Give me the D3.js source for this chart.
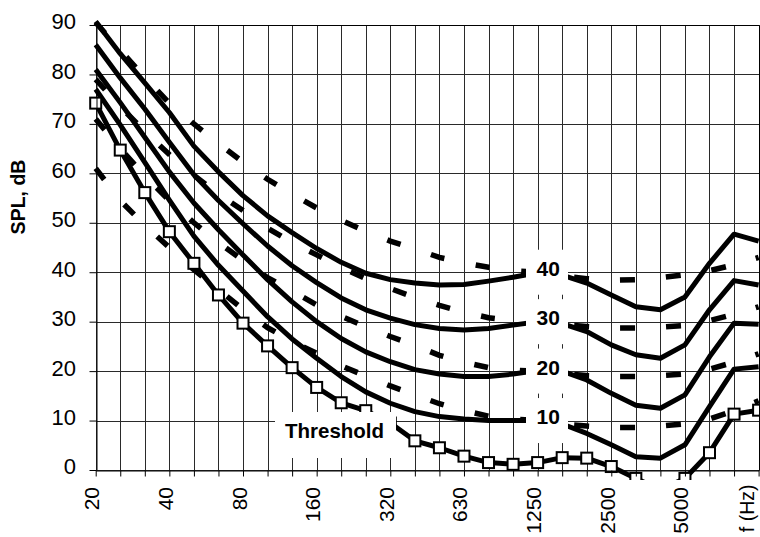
<!DOCTYPE html>
<html>
<head>
<meta charset="utf-8">
<script src="https://cdn.jsdelivr.net/npm/d3@7"></script>
<style>
  html, body { margin: 0; padding: 0; background: #fff; }
  svg { display: block; font-family: "Liberation Sans", Arial, sans-serif; }
</style>
</head>
<body>
<script>
// ---- Data ----
const bands = ["20","25","31.5","40","50","63","80","100","125","160","200","250","315","400","500","630","800","1000","1250","1600","2000","2500","3150","4000","5000","6300","8000","10000"];

// solid contours (dB SPL per band)
const c40 = [90.7, 84.2, 78.3, 72.3, 65.5, 60.3, 55.5, 51.4, 48.0, 44.8, 42.0, 39.8, 38.5, 37.8, 37.4, 37.5, 38.2, 39.0, 39.9, 39.4, 37.8, 35.4, 33.0, 32.4, 35.0, 41.8, 47.7, 46.3];
const c30 = [86.0, 79.3, 73.0, 66.3, 59.7, 54.5, 49.8, 45.3, 41.3, 37.9, 34.8, 32.4, 30.7, 29.4, 28.6, 28.3, 28.6, 29.3, 30.0, 29.6, 28.0, 25.3, 23.3, 22.6, 25.3, 32.4, 38.3, 37.4];
const c20 = [81.0, 74.3, 67.3, 60.3, 54.0, 48.6, 43.5, 38.5, 34.0, 30.0, 26.6, 23.9, 21.9, 20.3, 19.4, 18.9, 18.9, 19.4, 20.1, 20.0, 18.2, 15.5, 13.1, 12.5, 15.2, 22.9, 29.7, 29.5];
const c10 = [77.0, 69.8, 62.2, 54.6, 47.3, 41.4, 36.2, 31.0, 26.5, 22.6, 18.9, 15.8, 13.5, 11.8, 10.8, 10.3, 10.0, 10.0, 10.0, 9.3, 7.4, 5.1, 2.7, 2.4, 5.1, 12.8, 20.4, 20.9];
const threshold = [74.2, 64.7, 56.1, 48.2, 41.8, 35.4, 29.7, 25.1, 20.7, 16.7, 13.6, 12.0, 9.5, 5.9, 4.5, 2.8, 1.5, 1.15, 1.5, 2.5, 2.4, 0.7, -1.7, -4.0, -1.7, 3.5, 11.3, 12.1];

// dashed contours
const d40 = [90.5, 84.9, 79.4, 74.2, 70.0, 66.0, 62.3, 58.8, 55.8, 53.0, 50.5, 48.3, 46.3, 44.7, 43.0, 41.9, 41.0, 40.3, 40.0, 39.3, 38.7, 38.4, 38.5, 38.9, 39.5, 40.3, 41.5, 43.0];
const d30 = [79.0, 73.5, 68.5, 63.8, 59.6, 55.8, 52.5, 48.9, 46.0, 43.5, 41.0, 38.7, 36.7, 34.9, 33.3, 31.9, 30.8, 30.2, 30.0, 29.4, 29.0, 28.7, 28.7, 28.9, 29.2, 30.2, 31.5, 33.0];
const d20 = [71.0, 65.0, 59.5, 54.5, 50.0, 46.0, 42.4, 38.9, 36.2, 33.4, 31.1, 29.0, 27.0, 25.2, 23.2, 21.8, 20.7, 20.2, 20.0, 19.5, 19.1, 18.9, 18.9, 19.1, 19.4, 20.4, 21.8, 23.5];
const d10 = [61.0, 54.5, 49.5, 45.0, 40.5, 36.5, 32.5, 28.8, 26.0, 23.6, 21.1, 19.0, 17.0, 15.2, 13.4, 12.0, 10.9, 10.3, 10.0, 9.3, 8.9, 8.6, 8.6, 8.9, 9.3, 10.3, 12.0, 14.0];

const yTicks = [0, 10, 20, 30, 40, 50, 60, 70, 80, 90];
const xTickBands = ["20","40","80","160","315","630","1250","2500","5000","10000"];
const xTickTexts = ["20","40","80","160","320","630","1250","2500","5000","f (Hz)"];
const contourLevels = [40, 30, 20, 10];
const contourTexts = ["40", "30", "20", "10"];
const thresholdText = "Threshold";
const yTitle = "SPL, dB";
const splitBand = "1250"; // last band of the left part of the dashed curves

// ---- Chart ----
const W = 760, H = 537;
const svg = d3.select("body").append("svg").attr("width", W).attr("height", H);

const x = d3.scalePoint().domain(bands).range([95.7, 758.6]);
const y = d3.scaleLinear().domain([0, 90]).range([470, 25]);
const crisp = v => Math.round(v) + 0.5;
const lastBand = bands[bands.length - 1];

// gridlines
const grid = svg.append("g").attr("stroke", "#2a2a2a").attr("stroke-width", 1).attr("fill", "none");
grid.selectAll("line.v").data(bands).join("line").attr("class", "v")
  .attr("x1", d => crisp(x(d))).attr("x2", d => crisp(x(d)))
  .attr("y1", crisp(y(90))).attr("y2", crisp(y(0)));
grid.selectAll("line.h").data(yTicks).join("line").attr("class", "h")
  .attr("x1", crisp(x(bands[0]))).attr("x2", crisp(x(lastBand)))
  .attr("y1", d => crisp(y(d))).attr("y2", d => crisp(y(d)));

// clip
svg.append("clipPath").attr("id", "plotclip").append("rect")
  .attr("x", 80).attr("y", 8).attr("width", crisp(x(lastBand)) + 0.5 - 80).attr("height", 480 - 8);

const series = svg.append("g").attr("clip-path", "url(#plotclip)");
const line = d3.line().x(d => x(d.b)).y(d => y(d.v));
const pts = arr => arr.map((v, i) => ({ b: bands[i], v }));

// dashed contours (left part and right part, each with its own dash phase)
const si = bands.indexOf(splitBand);
[d40, d30, d20, d10].forEach(arr => {
  const p = pts(arr);
  series.append("path").datum(p.slice(0, si + 1)).attr("d", line)
    .attr("fill", "none").attr("stroke", "#000").attr("stroke-width", 5.5)
    .attr("stroke-dasharray", "14,32").attr("stroke-linecap", "butt");
  series.append("path").datum(p.slice(si + 1)).attr("d", line)
    .attr("fill", "none").attr("stroke", "#000").attr("stroke-width", 5.5)
    .attr("stroke-dasharray", "15,31").attr("stroke-dashoffset", 34).attr("stroke-linecap", "butt");
});

// solid contours
[c40, c30, c20, c10].forEach(arr => {
  series.append("path").datum(pts(arr)).attr("d", line)
    .attr("fill", "none").attr("stroke", "#000").attr("stroke-width", 5)
    .attr("stroke-linejoin", "round");
});

// threshold
series.append("path").datum(pts(threshold)).attr("d", line)
  .attr("fill", "none").attr("stroke", "#000").attr("stroke-width", 5)
  .attr("stroke-linejoin", "round");
series.selectAll("rect.mk").data(pts(threshold)).join("rect").attr("class", "mk")
  .attr("x", d => x(d.b) - 5.5).attr("y", d => y(d.v) - 5.5)
  .attr("width", 11).attr("height", 11)
  .attr("fill", "#fff").attr("stroke", "#000").attr("stroke-width", 2);

// contour labels with white boxes
const lab = svg.append("g");
lab.selectAll("rect").data(contourLevels).join("rect")
  .attr("x", 526).attr("y", d => y(d) - 22.5).attr("width", 42).attr("height", 45)
  .attr("fill", "#fff");
lab.selectAll("text").data(contourLevels).join("text")
  .attr("x", 536.5).attr("y", d => y(d) + 3.5)
  .attr("font-size", 21).attr("font-weight", "bold").attr("fill", "#000")
  .text((d, i) => contourTexts[i]);

// threshold label
lab.append("rect").attr("x", 275).attr("y", 412).attr("width", 121).attr("height", 46).attr("fill", "#fff");
lab.append("text").attr("x", 285).attr("y", 438)
  .attr("font-size", 20.5).attr("font-weight", "bold").attr("fill", "#000")
  .text(thresholdText);

// axes
const yAxis = d3.axisLeft(y).tickValues(yTicks).tickSize(7).tickSizeOuter(0).tickPadding(13.5);
const gy = svg.append("g").attr("transform", `translate(${crisp(x(bands[0]))},0)`).call(yAxis);
gy.select(".domain").attr("stroke", "#000");
gy.selectAll(".tick line").attr("stroke", "#000");
gy.selectAll(".tick text").attr("font-size", 22).attr("font-family", "Liberation Sans, Arial, sans-serif")
  .attr("fill", "#000").attr("dy", "0.18em");

const xAxis = d3.axisBottom(x).tickValues(bands).tickSize(6).tickSizeOuter(0)
  .tickFormat(d => { const k = xTickBands.indexOf(d); return k >= 0 ? xTickTexts[k] : ""; });
const gx = svg.append("g").attr("transform", `translate(0,${crisp(y(0))})`).call(xAxis);
gx.select(".domain").attr("stroke", "#000");
gx.selectAll(".tick line").attr("stroke", "#000");
gx.selectAll(".tick text")
  .attr("font-size", d => d === lastBand ? 19.5 : 21)
  .attr("font-family", "Liberation Sans, Arial, sans-serif").attr("fill", "#000")
  .attr("transform", "rotate(-90)").attr("text-anchor", "end")
  .attr("x", d => d === lastBand ? -14 : -16.5)
  .attr("y", d => d === lastBand ? -5.5 : 3).attr("dy", 0);

// top and right frame
svg.append("line").attr("x1", crisp(x(bands[0]))).attr("x2", crisp(x(lastBand)))
  .attr("y1", crisp(y(90))).attr("y2", crisp(y(90))).attr("stroke", "#000");
svg.append("line").attr("x1", crisp(x(lastBand))).attr("x2", crisp(x(lastBand)))
  .attr("y1", crisp(y(90))).attr("y2", crisp(y(0))).attr("stroke", "#000");

// y title
svg.append("text").attr("transform", "translate(25,197) rotate(-90)")
  .attr("text-anchor", "middle").attr("font-size", 19.5).attr("font-weight", "bold").attr("fill", "#000")
  .text(yTitle);
</script>
</body>
</html>
